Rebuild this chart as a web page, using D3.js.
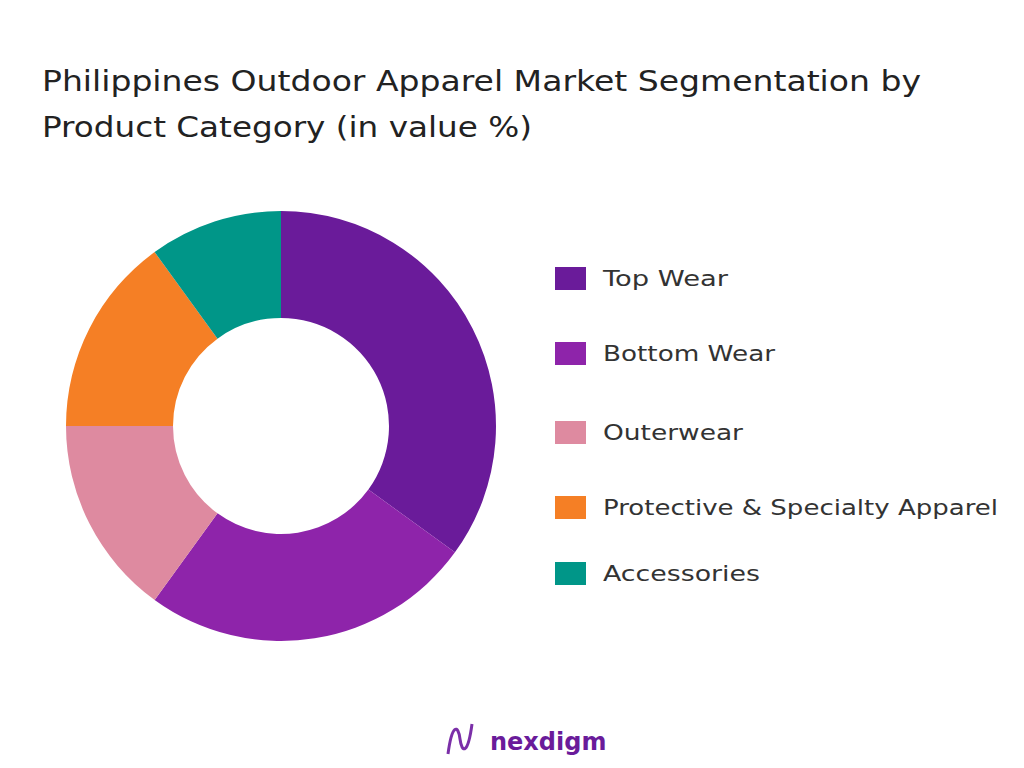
<!DOCTYPE html>
<html><head><meta charset="utf-8">
<script src="https://cdn.jsdelivr.net/npm/d3@7"></script>
<style>body{margin:0;background:#fff;font-family:"DejaVu Sans",sans-serif}</style>
</head><body>
<svg id="chart" width="1024" height="768"></svg>
<script>
const categories = ['Top Wear', 'Bottom Wear', 'Outerwear', 'Protective & Specialty Apparel', 'Accessories'];
const values = [35, 25, 15, 15, 10];
const colors = ['#6a1b9a', '#8e24aa', '#de8aa0', '#f57f25', '#009688'];
const legendWidths = [125, 172, 140, 395, 157];

const svg = d3.select('#chart');

svg.append('text').attr('x', 42).attr('y', 91).attr('font-size', 28).attr('fill', '#222')
  .attr('textLength', 879).attr('lengthAdjust', 'spacingAndGlyphs')
  .text('Philippines Outdoor Apparel Market Segmentation by');
svg.append('text').attr('x', 42).attr('y', 137).attr('font-size', 28).attr('fill', '#222')
  .attr('textLength', 490).attr('lengthAdjust', 'spacingAndGlyphs')
  .text('Product Category (in value %)');

const pie = d3.pie().sort(null).value(d => d)(values);
const arc = d3.arc().innerRadius(108).outerRadius(215);

svg.append('g').attr('transform', 'translate(281,426)')
  .selectAll('path').data(pie).join('path')
  .attr('d', arc)
  .attr('fill', (d, i) => colors[i]);

const legendY = [278, 353, 432, 507, 573];
const legend = svg.append('g').selectAll('g').data(categories).join('g')
  .attr('transform', (d, i) => `translate(555,${legendY[i]})`);
legend.append('rect').attr('x', 0).attr('y', -11).attr('width', 31).attr('height', 23)
  .attr('fill', (d, i) => colors[i]);
legend.append('text').attr('x', 48).attr('y', 8).attr('font-size', 22).attr('fill', '#333')
  .attr('textLength', (d, i) => legendWidths[i]).attr('lengthAdjust', 'spacingAndGlyphs')
  .text(d => d);

// logo
const logo = svg.append('g').attr('transform', 'translate(446,724)');
logo.append('path').attr('d', 'M2,30 C6,0 12,0 14,15 C16,30 22,30 26,0')
  .attr('fill', 'none').attr('stroke', '#7b2fa8').attr('stroke-width', 3);
svg.append('text').attr('x', 490).attr('y', 750).attr('font-size', 24).attr('font-weight', 'bold')
  .attr('fill', '#6a1b9a').text('nexdigm');
</script>
</body></html>
